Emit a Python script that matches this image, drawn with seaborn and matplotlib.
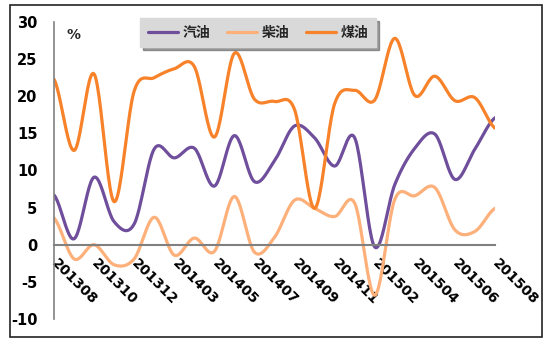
import numpy as np
import pandas as pd
import matplotlib
matplotlib.use("Agg")
import matplotlib.pyplot as plt
import seaborn as sns
from matplotlib.patches import Rectangle

months = ["201308", "201309", "201310", "201311", "201312", "201402", "201403",
          "201404", "201405", "201406", "201407", "201408", "201409", "201410",
          "201411", "201412", "201502", "201503", "201504", "201505", "201506",
          "201507", "201508"]
gasoline = [6.7, 0.8, 9.1, 3.1, 2.8, 12.9, 11.7, 13.0, 7.9, 14.7, 8.5, 11.3,
            16.0, 14.4, 10.6, 14.4, -0.3, 8.1, 13.0, 14.9, 8.8, 12.9, 17.1]
diesel = [3.6, -1.9, 0.0, -2.7, -1.9, 3.7, -1.4, 0.9, -0.9, 6.5, -1.0, 1.0,
          6.0, 4.9, 3.8, 5.6, -6.8, 6.1, 6.6, 7.7, 2.0, 1.8, 4.9]
kerosene = [22.3, 12.7, 23.0, 5.8, 20.7, 22.5, 23.7, 24.0, 14.5, 25.8, 19.6, 19.3,
            18.2, 4.9, 19.0, 20.8, 19.5, 27.8, 20.1, 22.7, 19.4, 19.8, 15.7]
series_names = ["汽油", "柴油", "煤油"]
colors = ["#6F4E9C", "#FDB07A", "#F7822A"]
yticks = [-10, -5, 0, 5, 10, 15, 20, 25, 30]


def smooth(y, n=24):
    """Excel-like (Catmull-Rom Bezier) smoothing through the data points."""
    y = np.asarray(y, float)
    x = np.arange(len(y), dtype=float)
    xs, ys = [], []
    for i in range(len(y) - 1):
        p0 = y[i - 1] if i > 0 else y[i]
        p1, p2 = y[i], y[i + 1]
        p3 = y[i + 2] if i + 2 < len(y) else y[i + 1]
        c1 = p1 + (p2 - p0) / 6.0
        c2 = p2 - (p3 - p1) / 6.0
        t = np.linspace(0, 1, n, endpoint=(i == len(y) - 2))
        b = ((1 - t) ** 3 * p1 + 3 * (1 - t) ** 2 * t * c1
             + 3 * (1 - t) * t ** 2 * c2 + t ** 3 * p2)
        xs.append(x[i] + t)
        ys.append(b)
    return np.concatenate(xs), np.concatenate(ys)


sns.set_theme(style="white")
plt.rcParams["font.family"] = ["DejaVu Sans", "Noto Sans CJK SC"]

fig = plt.figure(figsize=(5.53, 3.49), dpi=100)
ax = fig.add_axes([54 / 553, 1 - 319 / 349, 441 / 553, 297 / 349])

frames = []
for name, vals in zip(series_names, [gasoline, diesel, kerosene]):
    xs, ys = smooth(vals)
    frames.append(pd.DataFrame({"x": xs, "y": ys, "s": name}))
df = pd.concat(frames, ignore_index=True)

sns.lineplot(data=df, x="x", y="y", hue="s", hue_order=series_names,
             palette=colors, sort=False, estimator=None, linewidth=2.3, ax=ax)

for s in ["top", "right"]:
    ax.spines[s].set_visible(False)
ax.spines["bottom"].set_position(("data", 0))
ax.spines["left"].set_color("#808080")
ax.spines["left"].set_linewidth(1.2)
ax.spines["bottom"].set_color("#808080")
ax.spines["bottom"].set_linewidth(1.5)

ax.set_xlim(0, len(months) - 1)
ax.set_ylim(-10, 30)
ax.set_yticks(yticks)
ax.set_yticklabels([str(v) for v in yticks], fontsize=10.5, fontweight="bold")
ax.set_xticks(range(0, len(months), 2))
ax.set_xticklabels(months[::2], rotation=-45, ha="left", va="center",
                   rotation_mode="anchor", fontsize=10, fontweight="bold")
ax.set_xlabel("")
ax.set_ylabel("")

ax.tick_params(axis="y", direction="out", length=4, width=1, color="#808080",
               pad=8, labelcolor="black")
ax.tick_params(axis="x", direction="in", length=4, width=1, color="#555555",
               pad=12, labelcolor="black")
ax.set_facecolor("white")

ax.text(0.6, 28.2, "%", fontsize=10, fontweight="bold", ha="left", va="center")

handles, labels = ax.get_legend_handles_labels()
ax.get_legend().remove()
leg = fig.legend(handles, labels, loc="upper center",
                 bbox_to_anchor=(258 / 553, 1 - 11 / 349), ncol=3,
                 frameon=True, fancybox=False, shadow=True, handlelength=2.2,
                 handletextpad=0.3, columnspacing=1.2, borderpad=0.55,
                 prop={"family": ["Noto Sans CJK SC"], "weight": "bold", "size": 10})
leg.get_frame().set_facecolor("#D9D9D9")
leg.get_frame().set_edgecolor("#D9D9D9")
leg.get_frame().set_alpha(1)
for line in leg.get_lines():
    line.set_linewidth(2.3)

fig.patches.append(Rectangle((10 / 553, 1 - 337 / 349), 532 / 553, 332 / 349,
                             transform=fig.transFigure, fill=False,
                             edgecolor="#222222", linewidth=1.2))

fig.savefig("out.png", dpi=100)
